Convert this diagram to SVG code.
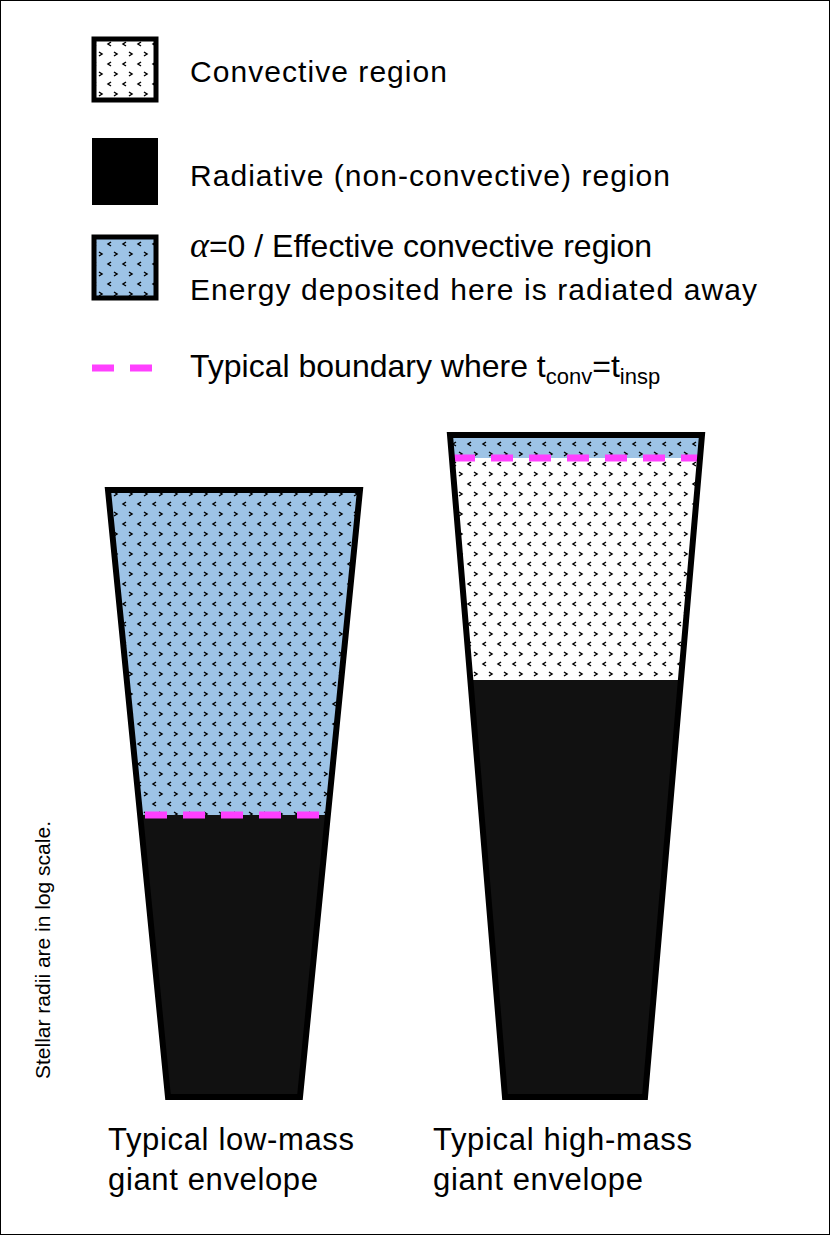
<svg xmlns="http://www.w3.org/2000/svg" width="830" height="1235" viewBox="0 0 830 1235">
<style>
text{font-family:"Liberation Sans",Arial,sans-serif;fill:#000}
.lg{font-size:30px}.lb{font-size:31px}
.ol{fill:none;stroke:#000;stroke-width:6;stroke-linejoin:miter}
.dash{stroke:#ff40ff;stroke-width:7;stroke-dasharray:22,16}
</style>
<defs>
<pattern id="dots" width="15" height="20" patternUnits="userSpaceOnUse">
<path d="M6 2l-3 2l3 2M9 12l3 2l-3 2" fill="none" stroke="#000" stroke-width="1.5"/>
</pattern>
<clipPath id="cl"><polygon points="108,490 360,490 300,1097 168,1097"/></clipPath>
<clipPath id="cr"><polygon points="450,435 702,435 645,1097 505,1097"/></clipPath>
</defs>
<rect x="0.5" y="0.5" width="829" height="1234" fill="#fff" stroke="#000"/>
<g id="legend">
<rect x="94" y="39" width="62" height="61" fill="#fff"/><rect x="94" y="39" width="62" height="61" fill="url(#dots)" stroke="#000" stroke-width="5"/>
<text class="lg" x="190" y="82" textLength="257">Convective region</text>
<rect x="92" y="138" width="66" height="67" fill="#000"/>
<text class="lg" x="190" y="186" textLength="480">Radiative (non-convective) region</text>
<rect x="94" y="237" width="62" height="61" fill="#9dc3e6"/><rect x="94" y="237" width="62" height="61" fill="url(#dots)" stroke="#000" stroke-width="5"/>
<text x="190" y="257" font-size="32"><tspan font-family="Liberation Serif,serif" font-style="italic" font-size="36">α</tspan>=0 / Effective convective region</text>
<text class="lg" x="190" y="300" textLength="567">Energy deposited here is radiated away</text>
<line x1="92" y1="368" x2="158" y2="368" class="dash" stroke-dasharray="20,12"/>
<text x="190" y="377" font-size="32">Typical boundary where t<tspan font-size="22" dy="7">conv</tspan><tspan dy="-7">=t</tspan><tspan font-size="22" dy="7">insp</tspan></text>
</g>
<g id="low-mass">
<g clip-path="url(#cl)">
<rect x="100" y="480" width="270" height="335" fill="#9dc3e6"/>
<rect x="100" y="480" width="270" height="335" fill="url(#dots)"/>
<rect x="100" y="815" width="270" height="290" fill="#111"/>
</g>
<line x1="145" y1="815" x2="326" y2="815" class="dash"/>
<polygon points="108,490 360,490 300,1097 168,1097" class="ol"/>
<text class="lb" x="108" y="1150" textLength="246">Typical low-mass</text>
<text class="lb" x="108" y="1190" textLength="210">giant envelope</text>
</g>
<g id="high-mass">
<g clip-path="url(#cr)">
<rect x="440" y="430" width="270" height="28" fill="#9dc3e6"/>
<rect x="440" y="458" width="270" height="222" fill="#fff"/>
<rect x="440" y="430" width="270" height="250" fill="url(#dots)"/>
<rect x="440" y="680" width="270" height="430" fill="#111"/>
</g>
<line x1="453" y1="458" x2="699" y2="458" class="dash"/>
<polygon points="450,435 702,435 645,1097 505,1097" class="ol"/>
<text class="lb" x="433" y="1150" textLength="259">Typical high-mass</text>
<text class="lb" x="433" y="1190" textLength="210">giant envelope</text>
</g>
<text x="0" y="0" font-size="21" text-anchor="middle" transform="translate(50,950) rotate(-90)">Stellar radii are in log scale.</text>
</svg>
